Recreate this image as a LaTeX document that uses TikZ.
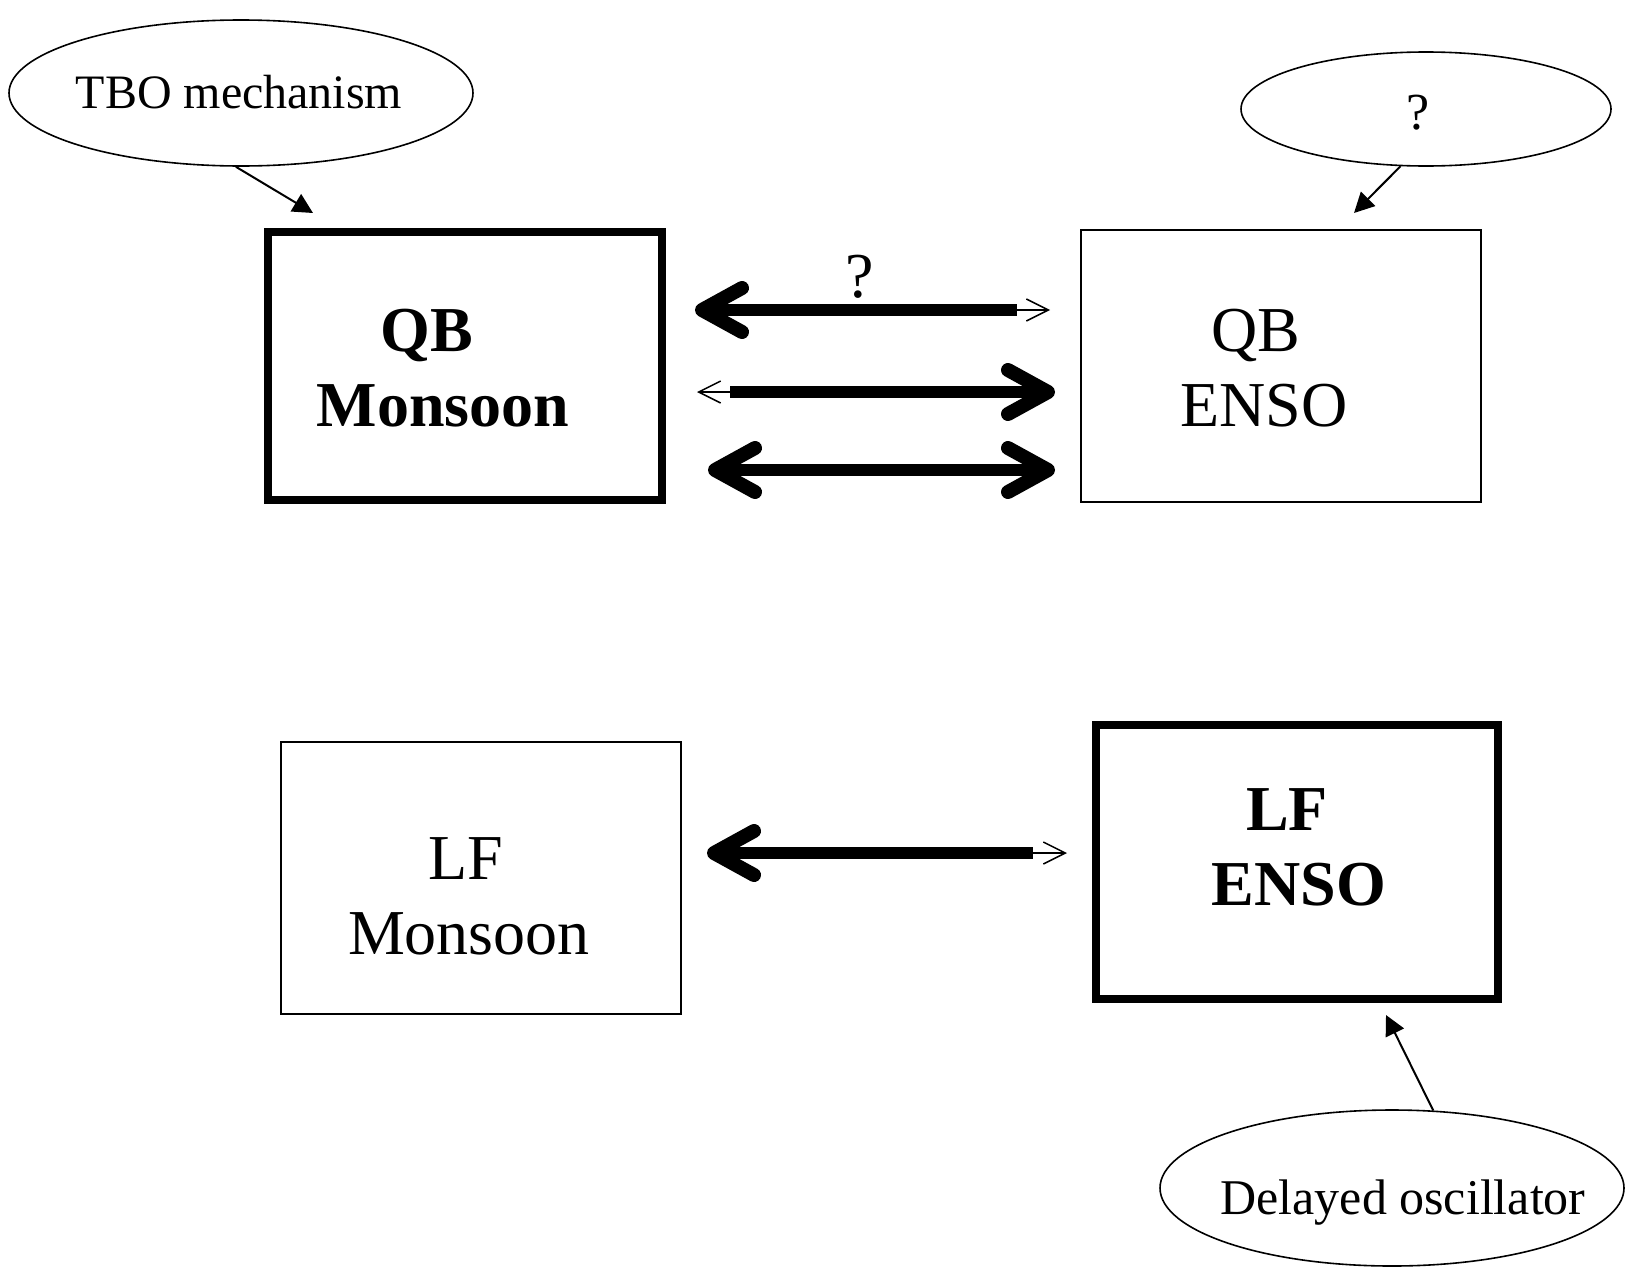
\documentclass[tikz,border=0pt]{standalone}
\usepackage{fontspec}
\setmainfont{Liberation Serif}
\usetikzlibrary{arrows.meta,positioning,shapes.geometric,calc}

\begin{document}
\begin{tikzpicture}[x=0.5pt,y=-0.5pt,
  thinbox/.style={draw,line width=0.8pt,minimum width=200pt,minimum height=136pt,
    inner sep=0pt,outer sep=0pt},
  thickbox/.style={thinbox,line width=4.2pt,minimum width=197pt,minimum height=134pt},
  lbl/.style={align=center,font=\fontsize{32}{37.5}\selectfont},
  bflbl/.style={align=center,font=\fontsize{32}{37.5}\selectfont\bfseries},
  bubble/.style={draw,ellipse,line width=0.8pt,inner sep=0pt},
  bubbletxt/.style={inner sep=0pt,font=\fontsize{24}{28}\selectfont},
  fathead/.tip={Straight Barb[length=20pt,width=22pt,line width=7pt,round]},
  thinhead/.tip={Straight Barb[length=11pt,width=11pt,line width=0.75pt]},
  fat/.style={line width=6pt},
  slim/.style={line width=0.75pt},
  ptr/.style={line width=1pt,-{Triangle[length=10pt,width=10pt]}}
]
  \useasboundingbox (0,0) rectangle (1627,1269);

  % QB boxes
  \node[thickbox] (qbm) at (465,366) {};
  \node[thinbox] (qbe) at (1281,366) {};
  % LF boxes
  \node[thinbox] (lfm) at (481,878) {};
  \node[thickbox,minimum width=201pt,minimum height=137pt] (lfe) at (1297,862) {};

  \node[bflbl] (qbmtxt) at (443,368) {QB\hspace*{16pt}\\Monsoon};
  \node[lbl] (qbetxt) at (1264,368) {QB\hspace*{8pt}\\ENSO};
  \node[lbl] (lfmtxt) at (469,896) {LF\hspace*{3pt}\\Monsoon};
  \node[bflbl] (lfetxt) at (1299,847) {LF\hspace*{12pt}\\ENSO};

  % mechanisms
  \node[bubble,minimum width=232pt,minimum height=73pt] (tbo) at (241,93) {};
  \node[bubble,minimum width=185pt,minimum height=57pt] (qmark) at (1426,109) {};
  \node[bubble,minimum width=232pt,minimum height=78pt] (dly) at (1392,1188) {};
  \node[bubbletxt] (tbotxt) at (239,92) {TBO mechanism};
  \node[bubbletxt,font=\fontsize{26}{30}\selectfont] (qmarktxt) at (1418,113) {?};
  \node[bubbletxt,font=\fontsize{25}{29}\selectfont] (dlytxt) at (1403,1203) {Delayed oscillator};

  \draw[ptr] (tbo.266) -- ($(qbm.north west)+(45,-19)$);
  \draw[ptr] (qmark.246) -- ($(qbe.north)+(73,-17)$);
  \draw[ptr] (dly.62) -- ($(lfe.south)+(89,16)$);

  % monsoon <-> ENSO links
  \coordinate (a1l) at ($(qbm.east)+(33,-56)$);
  \coordinate (a1m) at ($(qbe.west)+(-64,-56)$);
  \coordinate (a1r) at ($(qbe.west)+(-31,-56)$);
  \coordinate (a2l) at ($(qbm.east)+(35,26)$);
  \coordinate (a2m) at ($(qbm.east)+(68,26)$);
  \coordinate (a2r) at ($(qbe.west)+(-26,26)$);
  \coordinate (a3l) at ($(qbm.east)+(46,104)$);
  \coordinate (a3r) at ($(qbe.west)+(-26,104)$);
  \coordinate (a4l) at ($(lfm.east)+(26,-25)$);
  \coordinate (a4m) at ($(lfe.west)+(-63,-9)$);
  \coordinate (a4r) at ($(lfe.west)+(-29,-9)$);

  \draw[fat,fathead-] (a1l) -- node[above,inner sep=3pt,xshift=2pt,font=\fontsize{32}{36}\selectfont] (qq) {?} (a1m);
  \draw[slim,-thinhead] (a1m) -- (a1r);
  \draw[slim,thinhead-] (a2l) -- (a2m);
  \draw[fat,-fathead] (a2m) -- (a2r);
  \draw[fat,fathead-fathead] (a3l) -- (a3r);
  \draw[fat,fathead-] (a4l) -- (a4m);
  \draw[slim,-thinhead] (a4m) -- (a4r);
\end{tikzpicture}
\end{document}
